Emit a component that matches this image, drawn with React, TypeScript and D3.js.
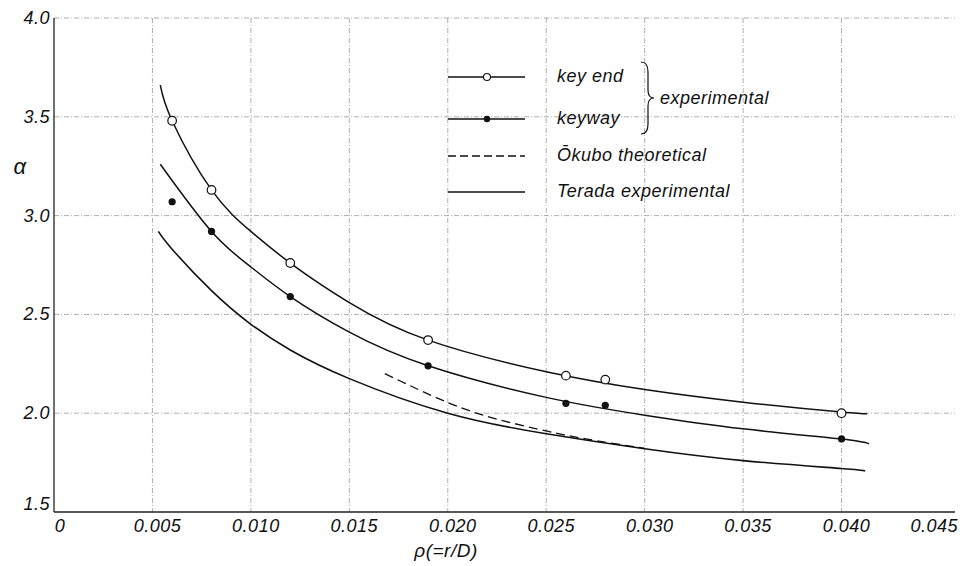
import React from 'react';
import * as d3 from 'd3';

// values
const xTicks = [0, 0.005, 0.01, 0.015, 0.02, 0.025, 0.03, 0.035, 0.04, 0.045];
const xTickLabels = ['0', '0.005', '0.010', '0.015', '0.020', '0.025', '0.030', '0.035', '0.040', '0.045'];
const yTicks = [1.5, 2.0, 2.5, 3.0, 3.5, 4.0];
const yTickLabels = ['1.5', '2.0', '2.5', '3.0', '3.5', '4.0'];

const keyEndPoints: [number, number][] = [
  [0.006, 3.48], [0.008, 3.13], [0.012, 2.76], [0.019, 2.37], [0.026, 2.19], [0.028, 2.17], [0.040, 2.0]
];
const keywayPoints: [number, number][] = [
  [0.006, 3.07], [0.008, 2.92], [0.012, 2.59], [0.019, 2.24], [0.026, 2.05], [0.028, 2.04], [0.040, 1.87]
];

const keyEndCurve: [number, number][] = [
  [0.0054, 3.66], [0.006, 3.48], [0.008, 3.13], [0.010, 2.92], [0.012, 2.76], [0.015, 2.56],
  [0.019, 2.37], [0.025, 2.21], [0.030, 2.12], [0.035, 2.056], [0.040, 2.006], [0.0413, 1.997]
];
const keywayCurve: [number, number][] = [
  [0.0054, 3.26], [0.008, 2.92], [0.010, 2.74], [0.012, 2.59], [0.015, 2.41], [0.019, 2.24],
  [0.025, 2.08], [0.030, 1.99], [0.035, 1.921], [0.040, 1.869], [0.0414, 1.845]
];
const teradaCurve: [number, number][] = [
  [0.0053, 2.92], [0.006, 2.83], [0.008, 2.62], [0.010, 2.45], [0.012, 2.32], [0.015, 2.175],
  [0.020, 2.0], [0.025, 1.896], [0.030, 1.82], [0.035, 1.76], [0.040, 1.72], [0.0412, 1.708]
];
const okuboCurve: [number, number][] = [
  [0.0168, 2.20], [0.020, 2.054], [0.0225, 1.97], [0.025, 1.91], [0.027, 1.87], [0.030, 1.822]
];

const legendRows = ['key end', 'keyway', 'Ōkubo theoretical', 'Terada experimental'];

const width = 962;
const height = 566;
const font = '"Liberation Sans", Arial, sans-serif';

export default function App() {
  const x = d3.scaleLinear().domain([0, 0.045]).range([54, 940]);
  const y = d3.scaleLinear().domain([1.5, 4.0]).range([512, 18]);

  const line = d3.line<[number, number]>()
    .x(d => x(d[0]))
    .y(d => y(d[1]))
    .curve(d3.curveNatural);

  const gridStyle = { stroke: '#9a9a9a', strokeWidth: 0.8, strokeDasharray: '5 2 1 2', fill: 'none' };
  const textStyle = { fontFamily: font, fontStyle: 'italic', fontSize: 18, fill: '#111', letterSpacing: 0.5 };

  const legX0 = 448, legX1 = 525, legSym = 487, legText = 557;
  const legY = [77, 119, 156, 192];
  const last = xTicks.length - 1;

  return (
    <svg width={width} height={height} style={{ position: 'absolute', left: 0, top: 0, background: '#fff' }}>
      {/* grid */}
      {yTicks.filter(t => t > 1.5).map(t => (
        <line key={`gy-${t}`} x1={x(0)} x2={955} y1={y(t)} y2={y(t)} style={gridStyle} />
      ))}
      {xTicks.filter(t => t > 0 && t < 0.045).map(t => (
        <line key={`gx-${t}`} x1={x(t)} x2={x(t)} y1={y(4.0)} y2={y(1.5)} style={gridStyle} />
      ))}

      {/* axes */}
      <line x1={x(0)} x2={x(0)} y1={y(4.0)} y2={y(1.5)} stroke="#222" strokeWidth={1.3} />
      <line x1={x(0)} x2={955} y1={y(1.5)} y2={y(1.5)} stroke="#222" strokeWidth={1.3} />

      {/* tick labels */}
      {yTicks.map((t, i) => (
        <text key={`yl-${t}`} x={x(0) - 4} y={y(t) + (t === 1.5 ? -2 : 6)} textAnchor="end" style={textStyle}>
          {yTickLabels[i]}
        </text>
      ))}
      {xTicks.map((t, i) => (
        <text key={`xl-${t}`} x={i === last ? 958 : x(t) + (t === 0 ? 6 : 5)} y={532}
          textAnchor={i === last ? 'end' : 'middle'} style={textStyle}>
          {xTickLabels[i]}
        </text>
      ))}

      {/* axis titles */}
      <text x={20} y={174} textAnchor="middle" style={{ ...textStyle, fontSize: 22 }}>α</text>
      <text x={446} y={557} textAnchor="middle" style={{ ...textStyle, fontSize: 19 }}>ρ(=r/D)</text>

      {/* curves */}
      <path d={line(keyEndCurve) || ''} fill="none" stroke="#111" strokeWidth={1.5} />
      <path d={line(keywayCurve) || ''} fill="none" stroke="#111" strokeWidth={1.5} />
      <path d={line(teradaCurve) || ''} fill="none" stroke="#111" strokeWidth={1.6} />
      <path d={line(okuboCurve) || ''} fill="none" stroke="#111" strokeWidth={1.3} strokeDasharray="9 5" />

      {/* points */}
      {keyEndPoints.map((d, i) => (
        <circle key={`ke-${i}`} cx={x(d[0])} cy={y(d[1])} r={4.3} fill="#fff" stroke="#111" strokeWidth={1.2} />
      ))}
      {keywayPoints.map((d, i) => (
        <circle key={`kw-${i}`} cx={x(d[0])} cy={y(d[1])} r={3.6} fill="#111" />
      ))}

      {/* legend */}
      {legendRows.map((label, i) => (
        <g key={`leg-${i}`}>
          <line x1={legX0} x2={legX1} y1={legY[i]} y2={legY[i]} stroke="#111" strokeWidth={1.3}
            strokeDasharray={i === 2 ? '8 4' : undefined} />
          {i === 0 && <circle cx={legSym} cy={legY[i]} r={3.5} fill="#fff" stroke="#111" strokeWidth={1.1} />}
          {i === 1 && <circle cx={legSym} cy={legY[i]} r={3.2} fill="#111" />}
          <text x={legText} y={legY[i] + 5} style={textStyle}>{label}</text>
        </g>
      ))}
      <path d="M641,62 Q648,62 648,72 L648,90 Q648,98 654,98 Q648,98 648,106 L648,124 Q648,134 641,134"
        fill="none" stroke="#111" strokeWidth={1.2} />
      <text x={660} y={104} style={textStyle}>experimental</text>
    </svg>
  );
}
